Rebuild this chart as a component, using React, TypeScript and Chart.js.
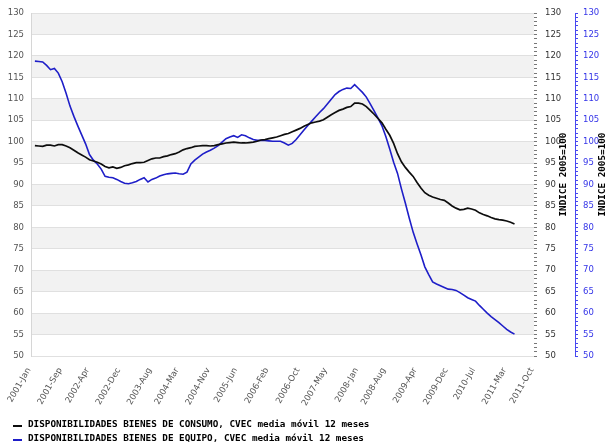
import React, { useEffect, useRef } from 'react';
import { Chart, registerables } from 'chart.js';

Chart.register(...registerables);

const YEARS = [2001, 2002, 2003, 2004, 2005, 2006, 2007, 2008, 2009, 2010, 2011];
const MONTHS = ['Jan', 'Feb', 'Mar', 'Apr', 'May', 'Jun', 'Jul', 'Aug', 'Sep', 'Oct', 'Nov', 'Dec'];
const LAST_CATEGORY = '2011-Oct';
const ALL_MONTHS = YEARS.flatMap((y) => MONTHS.map((m) => `${y}-${m}`));
const CATEGORIES = ALL_MONTHS.slice(0, ALL_MONTHS.indexOf(LAST_CATEGORY) + 1);

const TICK_LABELS = [
  '2001-Jan', '2001-Sep', '2002-Apr', '2002-Dec', '2003-Aug', '2004-Mar', '2004-Nov', '2005-Jun',
  '2006-Feb', '2006-Oct', '2007-May', '2008-Jan', '2008-Aug', '2009-Apr', '2009-Dec', '2010-Jul',
  '2011-Mar', '2011-Oct',
];

const Y_MIN = 50;
const Y_MAX = 130;

const LABEL_CONSUMO = 'DISPONIBILIDADES BIENES DE CONSUMO, CVEC media móvil 12 meses';
const LABEL_EQUIPO = 'DISPONIBILIDADES BIENES DE EQUIPO, CVEC media móvil 12 meses';
const AXIS_TITLE = 'INDICE 2005=100';

// 2001-Jan has no value; series run from 2001-Feb to 2011-May
const CONSUMO = [
  null,
  99.1, 99.0, 98.9, 99.2, 99.2, 99.0, 99.3, 99.3, 99.0, 98.6, 98.0,
  97.4, 96.9, 96.4, 95.8, 95.5, 95.2, 94.8, 94.2, 93.9, 94.1, 93.8, 94.0,
  94.4, 94.6, 94.9, 95.1, 95.1, 95.2, 95.6, 96.0, 96.2, 96.2, 96.5, 96.7,
  97.0, 97.2, 97.6, 98.1, 98.4, 98.6, 98.9, 99.0, 99.1, 99.1, 99.0, 99.1,
  99.3, 99.5, 99.7, 99.8, 99.9, 99.8, 99.7, 99.7, 99.8, 99.9, 100.1, 100.4,
  100.5, 100.7, 100.9, 101.1, 101.4, 101.7, 101.9, 102.3, 102.7, 103.1, 103.6, 104.0,
  104.4, 104.6, 104.8, 105.1, 105.7, 106.3, 106.8, 107.3, 107.6, 108.0, 108.2, 109.0,
  109.0, 108.8, 108.2, 107.3, 106.4, 105.4, 104.4, 102.9, 101.5, 99.6, 97.2, 95.3,
  94.0, 92.9, 91.9, 90.5, 89.2, 88.1, 87.5, 87.1, 86.8, 86.5, 86.3, 85.7,
  85.0, 84.5, 84.1, 84.2, 84.5, 84.3, 84.0, 83.4, 83.0, 82.7, 82.3, 82.0,
  81.8, 81.7, 81.5, 81.2, 80.8,
];

const EQUIPO = [
  null,
  118.8, 118.7, 118.6, 117.8, 116.8, 117.1, 116.0, 114.0, 111.3, 108.3, 105.9,
  103.7, 101.6, 99.5, 97.0, 95.7, 94.8, 93.6, 91.9, 91.7, 91.6, 91.2, 90.7,
  90.3, 90.2, 90.4, 90.7, 91.2, 91.6, 90.6, 91.2, 91.5, 92.0, 92.3, 92.5,
  92.6, 92.7, 92.5, 92.4, 92.9, 94.8, 95.7, 96.4, 97.1, 97.6, 98.0, 98.5,
  99.1, 99.9, 100.7, 101.1, 101.4, 101.0, 101.6, 101.4, 100.9, 100.5, 100.3, 100.3,
  100.3, 100.2, 100.1, 100.1, 100.1, 99.7, 99.2, 99.6, 100.5, 101.6, 102.7, 103.8,
  104.8, 105.8, 106.8, 107.7, 108.8, 109.9, 111.0, 111.7, 112.2, 112.5, 112.4, 113.3,
  112.4, 111.5, 110.4, 108.8, 107.2, 105.5, 103.7, 101.2, 98.3, 95.2, 92.6, 89.0,
  85.7, 82.2, 78.9, 76.2, 73.6, 70.8, 69.0, 67.3, 66.8, 66.4, 66.0, 65.6,
  65.5, 65.3, 64.8, 64.2, 63.6, 63.2, 62.8, 61.8, 60.9, 60.0, 59.2, 58.5,
  57.8, 57.0, 56.2, 55.6, 55.1,
];

const BLACK = '#0d0d0d';
const BLUE = '#1e1ec8';
const AXIS_BLUE = '#4848f0';
const MONO = '"DejaVu Sans Mono", "Liberation Mono", monospace';
const SANS = '"DejaVu Sans", Verdana, sans-serif';
const TICK_SIZE = 8.5;

const bandsPlugin = {
  id: 'bands',
  beforeDraw(chart: any) {
    const { ctx, chartArea } = chart;
    const s = chart.scales.y;
    const ticks = s.ticks.map((t: any) => t.value);
    ctx.save();
    ctx.fillStyle = '#f2f2f2';
    for (let k = 1; k < ticks.length - 1; k += 2) {
      const top = s.getPixelForValue(ticks[k + 1]);
      const bot = s.getPixelForValue(ticks[k]);
      ctx.fillRect(chartArea.left, top, chartArea.right - chartArea.left, bot - top);
    }
    ctx.restore();
  },
};

const decorPlugin = {
  id: 'decor',
  afterDraw(chart: any) {
    const { ctx } = chart;
    ctx.save();
    ctx.font = `bold 9.3px ${MONO}`;
    ctx.fillStyle = '#000';
    // axis titles (reading bottom to top)
    const titleAxes = [
      { id: 'y1', inset: 11.5 },
      { id: 'y2', inset: 10.5 },
    ];
    titleAxes.forEach(({ id, inset }) => {
      const s = chart.scales[id];
      const cx = s.right - inset;
      const cy = (s.top + s.bottom) / 2 - 10;
      ctx.save();
      ctx.translate(cx, cy);
      ctx.rotate(-Math.PI / 2);
      ctx.textAlign = 'center';
      ctx.textBaseline = 'middle';
      ctx.fillText(AXIS_TITLE, 0, 0);
      ctx.restore();
    });
    // legend
    chart.data.datasets.forEach((ds: any, i: number) => {
      const baseline = chart.height - 19 + i * 14;
      ctx.fillStyle = ds.borderColor;
      ctx.fillRect(13, baseline - 2, 9, 2);
      ctx.fillStyle = '#000';
      ctx.textAlign = 'left';
      ctx.textBaseline = 'alphabetic';
      ctx.fillText(ds.label, 28, baseline);
    });
    ctx.restore();
  },
};

export default function App() {
  const ref = useRef<HTMLCanvasElement | null>(null);

  useEffect(() => {
    if (!ref.current) return;
    const seriesData = (arr: (number | null)[]) => CATEGORIES.map((_, i) => (arr[i] ?? null));
    const chart = new Chart(ref.current, {
      type: 'line',
      data: {
        labels: CATEGORIES,
        datasets: [
          {
            label: LABEL_CONSUMO,
            data: seriesData(CONSUMO),
            borderColor: BLACK,
            backgroundColor: BLACK,
            borderWidth: 1.7,
            pointRadius: 0,
            yAxisID: 'y',
            spanGaps: false,
          },
          {
            label: LABEL_EQUIPO,
            data: seriesData(EQUIPO),
            borderColor: BLUE,
            backgroundColor: BLUE,
            borderWidth: 1.6,
            pointRadius: 0,
            yAxisID: 'y2',
            spanGaps: false,
          },
        ],
      },
      options: {
        animation: false,
        responsive: false,
        maintainAspectRatio: false,
        layout: { padding: { top: 11, bottom: 30, left: 0, right: 0 } },
        plugins: {
          legend: { display: false },
          tooltip: { enabled: false },
        },
        scales: {
          x: {
            type: 'category',
            ticks: {
              autoSkip: false,
              minRotation: 60,
              maxRotation: 60,
              color: '#555',
              font: { family: SANS, size: TICK_SIZE },
              padding: 10,
              labelOffset: -2,
              callback: (_v: any, i: number) => (TICK_LABELS.includes(CATEGORIES[i]) ? CATEGORIES[i] : ''),
            },
            grid: { display: false, drawTicks: false },
            border: { display: false },
            afterFit: (s: any) => { s.height = 60; },
          },
          y: {
            position: 'left',
            min: Y_MIN,
            max: Y_MAX,
            ticks: { stepSize: 5, color: '#555', font: { family: SANS, size: TICK_SIZE }, padding: 7 },
            grid: { color: '#e0e0e0', drawTicks: false },
            border: { display: true, color: '#d6d6d6' },
            afterFit: (s: any) => { s.width = 31; },
          },
          y1: {
            position: 'right',
            weight: 0,
            min: Y_MIN,
            max: Y_MAX,
            ticks: {
              stepSize: 1,
              autoSkip: false,
              color: '#333',
              font: { family: SANS, size: TICK_SIZE },
              padding: 8,
              callback: (v: any) => (Number(v) % 5 === 0 ? String(v) : ''),
            },
            grid: { drawOnChartArea: false, tickLength: 3, color: '#777' },
            border: { display: false },
            afterFit: (s: any) => { s.width = 41; },
          },
          y2: {
            position: 'right',
            weight: 1,
            min: Y_MIN,
            max: Y_MAX,
            ticks: {
              stepSize: 1,
              autoSkip: false,
              color: '#3535e8',
              font: { family: SANS, size: TICK_SIZE },
              padding: 5,
              callback: (v: any) => (Number(v) % 5 === 0 ? String(v) : ''),
            },
            grid: { drawOnChartArea: false, tickLength: 3, color: AXIS_BLUE },
            border: { display: true, color: AXIS_BLUE },
            afterFit: (s: any) => { s.width = 38; },
          },
        },
      },
      plugins: [bandsPlugin, decorPlugin],
    } as any);
    return () => chart.destroy();
  }, []);

  return (
    <div style={{ position: 'absolute', left: 0, top: 0, width: 613, height: 446, background: '#fff' }}>
      <canvas ref={ref} width={613} height={446} style={{ display: 'block' }} />
    </div>
  );
}
